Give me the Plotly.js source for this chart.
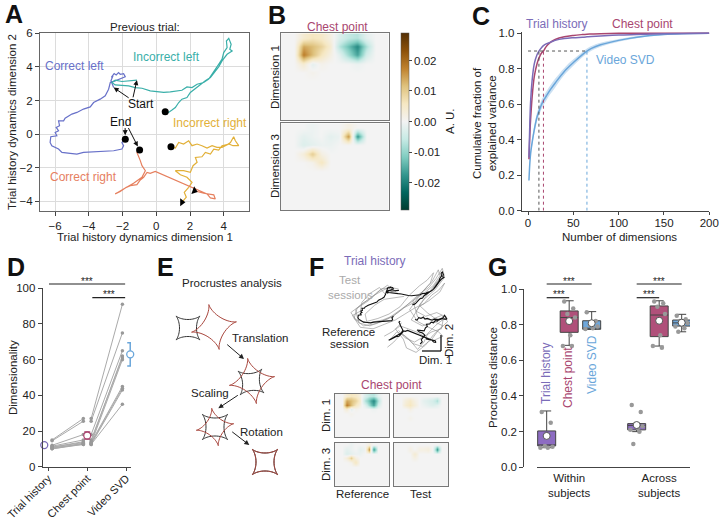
<!DOCTYPE html>
<html><head><meta charset="utf-8">
<script src="https://cdn.plot.ly/plotly-3.0.1.min.js"></script>
<style>html,body{margin:0;padding:0;background:#fff}#chart{width:720px;height:520px}</style>
</head><body><div id="chart"></div>
<script>
// ---------- Panel A: trial history trajectories ----------
const clX = [-2.53,-2.69,-2.57,-2.67,-2.50,-2.38,-2.24,-2.14,-1.94,-1.84,-2.14,-2.44,-2.73,-2.83,-3.03,-3.33,-3.72,-3.92,-4.32,-4.71,-5.01,-5.41,-5.50,-5.80,-5.74,-5.94,-5.80,-6.00,-5.90,-6.26,-6.30,-6.20,-5.80,-5.60,-5.11,-4.71,-4.32,-3.72,-3.13,-2.53,-2.04,-1.94,-2.04,-1.84];
const clY = [2.77,3.17,3.47,3.37,3.60,3.52,3.66,3.56,3.60,3.41,3.27,3.17,3.07,2.67,2.28,2.08,1.88,1.62,1.49,1.29,1.19,0.95,0.79,0.79,0.50,0.40,0.20,0.10,-0.10,-0.16,-0.50,-0.69,-0.89,-1.09,-1.15,-1.19,-1.09,-1.05,-1.03,-0.99,-0.89,-0.69,-0.50,-0.30];
const ilX = [-1.15,-1.54,-2.04,-2.44,-2.63,-2.44,-2.04,-1.64,-1.25,-0.85,-0.36,0.04,0.44,0.83,1.23,1.52,1.82,2.12,2.42,2.81,3.11,3.31,3.50,3.70,3.90,4.00,4.20,4.16,4.30,4.44,4.36,4.50,4.20,3.90,3.70,3.50,3.21,2.91,2.61,2.32,2.02,1.82,1.52,1.33,1.13,0.93,0.73,0.53];
const ilY = [3.21,3.17,3.13,3.21,3.07,2.93,2.91,2.87,2.77,2.73,2.57,2.51,2.48,2.51,2.57,2.61,2.81,2.77,2.97,3.07,3.27,3.60,3.86,4.16,4.46,4.85,5.15,5.54,5.70,5.35,5.05,4.95,4.75,4.36,4.00,3.76,3.37,3.17,2.93,2.67,2.48,2.18,2.08,1.88,1.58,1.43,1.29,1.33];
const irX = [1.52,1.78,1.66,1.92,2.12,1.82,1.43,1.13,1.62,2.02,2.18,2.42,2.32,2.71,2.91,3.21,3.41,3.70,3.90,4.20,4.40,4.59,4.69,4.89,4.55,4.30,3.90,3.60,3.31,3.01,2.71,2.42,2.12,1.92,1.62,1.33,1.13,0.87];
const irY = [-4.06,-3.76,-3.47,-3.17,-2.87,-2.57,-2.42,-2.18,-2.18,-2.28,-1.88,-1.68,-1.39,-1.35,-1.09,-1.19,-0.89,-0.95,-0.69,-0.63,-0.50,-0.16,-0.40,-0.69,-0.69,-0.59,-0.79,-0.79,-0.69,-0.83,-0.69,-0.59,-0.69,-0.40,-0.59,-0.50,-0.83,-0.75];
const crX = [2.26,2.81,3.41,3.50,3.21,3.01,-0.06,-0.36,-0.55,-0.75,-0.95,-1.15,-1.54,-1.78,-2.14,-2.44,-1.94,-1.35,-0.85,-0.65,-0.85,-0.95,-1.05,-1.15,-0.99];
const crY = [-3.37,-3.52,-3.62,-3.86,-3.80,-3.56,-2.22,-2.34,-2.28,-2.57,-2.73,-3.01,-3.07,-3.17,-3.41,-3.56,-3.27,-2.93,-2.57,-2.18,-1.88,-1.58,-1.29,-1.09,-0.95];
const trajNames = ['Correct left','Incorrect left','Incorrect right','Correct right'];

// ---------- Panel B / F: chest point loadings (units of 1e-3 A.U.) ----------
const chestDim1Ref = [
 [0,0,4,6,5,2,-3,-6,-7,-2,0,0],
 [0,0,14,12,9,4,-7,-13,-19,-8,0,0],
 [0,0,18,12,6,2,-2,-9,-16,-4,0,0],
 [0,0,4,-2,1,0,0,0,-1,0,0,0],
 [0,0,0,1,0,0,0,0,0,0,0,0],
 [0,0,0,0,0,0,0,0,0,0,0,0],
 [0,0,0,0,0,0,0,0,0,0,0,0],
 [0,0,0,0,0,0,0,0,0,0,0,0],
 [0,0,0,0,0,0,0,0,0,0,0,0],
 [0,0,0,0,0,0,0,0,0,0,0,0]];
const chestDim3Ref = [
 [0,0,0,-1,0,0,0,2,0,0,0,0],
 [0,0,-2,-1,0,-2,-1,16,-18,0,0,0],
 [0,0,-3,-2,-1,-1,0,0,0,0,0,0],
 [0,0,3,10,2,0,0,0,0,0,0,0],
 [0,0,0,1,6,0,0,0,0,0,0,0],
 [0,0,0,0,0,0,0,0,0,0,0,0],
 [0,0,0,0,0,0,0,0,0,0,0,0],
 [0,0,0,0,0,0,0,0,0,0,0,0],
 [0,0,0,0,0,0,0,0,0,0,0,0],
 [0,0,0,0,0,0,0,0,0,0,0,0]];
const chestDim1Test = [
 [0,0,0,0,0,0,0,0,0,0,0,0],
 [0,0,3,5,2,0,-2,-3,-4,-8,0,0],
 [0,0,4,6,3,0,-1,-2,-3,-2,0,0],
 [0,0,0,2,0,0,0,0,0,0,0,0],
 [0,0,0,0,0,0,0,0,0,0,0,0],
 [0,0,0,1,0,0,0,0,0,0,0,0],
 [0,0,0,0,0,0,0,0,0,0,0,0],
 [0,0,0,0,0,0,0,0,0,0,0,0],
 [0,0,0,0,0,0,0,0,0,0,0,0],
 [0,0,0,0,0,0,0,0,0,0,0,0]];
const chestDim3Test = [
 [0,0,0,0,0,0,0,0,0,0,0,0],
 [0,0,0,2,0,2,2,3,0,-18,0,0],
 [0,0,0,0,4,0,0,0,0,0,0,0],
 [0,0,0,0,2,0,0,0,0,0,0,0],
 [0,0,0,0,0,0,0,0,0,0,0,0],
 [0,0,0,0,0,0,0,0,0,0,0,0],
 [0,0,0,0,0,0,0,0,0,0,0,0],
 [0,0,0,0,0,0,0,0,0,0,0,0],
 [0,0,0,0,0,0,0,0,0,0,0,0],
 [0,0,0,0,0,0,0,0,0,0,0,0]];
const cbTickVals = [-20,-10,0,10,20];
const cbTickText = ['-0.02','-0.01','0.00','0.01','0.02'];

// ---------- Panel C: cumulative explained variance ----------
const nDims = [1,2,3,5,7,10,12,15,17,20,25,30,40,50,60,65,70,80,100,120,150,200];
const cumTrial = [0.30,0.50,0.63,0.76,0.83,0.88,0.90,0.92,0.93,0.94,0.95,0.96,0.97,0.975,0.978,0.98,0.982,0.985,0.99,0.993,0.997,1.0];
const cumChest = [0.29,0.43,0.53,0.67,0.76,0.83,0.86,0.89,0.90,0.925,0.95,0.965,0.98,0.988,0.993,0.995,0.996,0.998,1.0,1.0,1.0,1.0];
const cumVideo = [0.17,0.27,0.33,0.40,0.46,0.53,0.56,0.60,0.62,0.645,0.685,0.72,0.785,0.835,0.88,0.90,0.915,0.935,0.96,0.978,0.993,1.0];
const cumVideoSem = [0.01,0.015,0.02,0.02,0.025,0.025,0.025,0.025,0.025,0.025,0.025,0.025,0.02,0.018,0.015,0.014,0.013,0.011,0.008,0.006,0.003,0.001];
const dims90 = [12,17,65];

// ---------- Panel D: dimensionality per subject ----------
const dimTrial = [15,14.5,12,11.5,11,11,10.5,10.5,10,10];
const dimChest = [27,25.5,18,15,14,13.5,13,12.5,12.5,13];
const dimVideo = [91,75,65,61,62,45,44,43,35,60];
const dimMeans = [12.1,17.5,63];
const dimSems = [0.6,2.0,6.5];
const dimCats = ['Trial history','Chest point','Video SVD'];

// ---------- Panel F: test sessions (trial history, sketch of grey cloud) ----------
const test1X = [-2.0,-3.2,-4.5,-6.0,-7.2,-6.5,-5.0,-3.2,-1.8,-0.8,0.4,1.5,2.6,3.5,4.3,4.6,3.4,2.0,1.0,2.2,3.6,4.8,3.5,2.5,2.0,1.2,0.2,-0.8,-1.8,-2.6];
const test1Y = [3.8,3.2,2.4,1.2,0.2,-0.8,-1.2,-0.8,-0.2,0.6,1.8,2.8,3.6,4.8,6.2,5.0,3.3,2.0,0.4,-0.3,0.2,-0.4,-1.5,-2.6,-3.8,-4.8,-3.5,-2.6,-3.8,-4.5];
const test2X = [-1.5,-2.6,-3.8,-5.0,-6.4,-6.8,-5.6,-4.0,-2.5,-1.2,0.0,1.2,2.2,3.2,4.0,3.8,3.0,1.8,0.6,1.2,2.8,4.2,5.0,3.8,3.0,1.8,0.6,-0.4,-1.4,-2.2];
const test2Y = [3.0,3.9,3.0,1.8,0.8,-0.6,-1.6,-1.3,-0.6,0.4,1.2,2.2,3.0,3.9,5.2,6.0,4.4,3.0,1.8,-0.4,-0.8,-0.2,-1.0,-2.2,-3.4,-4.4,-4.0,-3.0,-2.4,-3.4];
const test3X = [-2.8,-3.6,-4.8,-5.8,-6.0,-7.0,-6.0,-4.4,-3.0,-1.6,-0.4,0.8,2.0,3.0,3.8,4.6,4.0,2.6,1.4,0.4,1.8,3.2,4.4,3.2,2.2,1.0,-0.2,-0.6,-1.6,-0.8];
const test3Y = [2.6,3.6,2.8,1.6,0.4,-0.2,-1.8,-2.0,-1.4,-0.8,0.0,0.8,1.4,2.6,3.2,4.2,3.0,1.8,1.0,-0.8,-1.6,-1.0,-1.6,-2.8,-4.2,-5.2,-4.6,-3.4,-2.0,-1.2];
const test4X = [-0.5,-1.8,-3.0,-4.2,-5.4,-5.2,-3.8,-2.4,-1.0,0.2,1.4,2.4,3.2,2.8,1.6,0.2,1.2,2.6,3.8,4.4,3.2,2.0,1.0,0.0,-1.0,-2.0,-3.0];
const test4Y = [2.4,2.2,2.0,1.2,0.0,-1.0,-0.6,0.0,1.0,2.6,3.8,4.6,5.6,4.2,2.8,0.6,-1.0,-1.8,-2.4,-3.0,-3.6,-3.0,-2.4,-2.0,-1.6,-2.4,-3.0];
const test5X = [-1.2,-2.2,-3.4,-4.6,-5.8,-6.6,-6.2,-4.8,-3.4,-2.0,-0.6,0.8,1.8,2.8,3.6,4.4,3.8,2.4,1.4,2.4,3.4,4.4,4.2,3.0,1.8,0.8,-0.4,-1.2];
const test5Y = [3.4,3.6,3.4,2.2,1.4,0.6,-1.2,-1.6,-1.0,-0.4,0.8,1.6,2.4,3.0,4.2,5.4,4.6,2.6,1.2,0.2,-0.6,-0.8,-2.0,-2.4,-3.2,-3.8,-3.2,-2.2];

// ---------- Panel G: Procrustes distance ----------
const groupPos = [0,4];
const thQ1=[0.12,0.21], thMed=[0.125,0.235], thQ3=[0.204,0.245], thLo=[0.11,0.20], thHi=[0.316,0.245];
const cpQ1=[0.757,0.733], cpMed=[0.84,0.854], cpQ3=[0.877,0.905], cpLo=[0.684,0.68], cpHi=[0.934,0.934];
const svQ1=[0.774,0.792], svMed=[0.78,0.81], svQ3=[0.822,0.826], svLo=[0.774,0.76], svHi=[0.873,0.858];
const thMean=[0.176,0.237], cpMean=[0.82,0.822], svMean=[0.808,0.811];
const thPts=[[0.31,0.25,0.12,0.115,0.11,0.11],[0.35,0.31,0.24,0.23,0.22,0.21,0.20,0.13]];
const cpPts=[[0.93,0.89,0.86,0.84,0.74,0.68,0.68],[0.93,0.92,0.90,0.86,0.74,0.68,0.67]];
const svPts=[[0.87,0.82,0.80,0.79,0.78,0.775],[0.85,0.83,0.82,0.81,0.80,0.79,0.78,0.76]];

// ================= drawing =================
const W=720,H=520;
const PX=x=>x/W, PY=y=>1-y/H;
const dx=(a,b)=>[a/W,b/W], dy=(t,b)=>[1-b/H,1-t/H];
const FONT='Liberation Sans, Arial, sans-serif';
const C_PUR='#7b6cb8', C_MAR='#a9466f', C_BLU='#6aa6da';
const C_CL='#6871c9', C_IL='#3aafa9', C_IR='#e2b038', C_CR='#e6805f';

function ann(text,x,y,o){return Object.assign({text:text,x:PX(x),y:PY(y),xref:'paper',yref:'paper',showarrow:false,xanchor:'center',yanchor:'middle',font:{size:11.5,color:'#222'}},o||{});}
function axs(o){return Object.assign({showgrid:false,zeroline:false,showline:true,linecolor:'#444',linewidth:1,ticks:'outside',ticklen:4,tickwidth:1,tickcolor:'#444',tickfont:{size:11.5,color:'#222'},fixedrange:true},o);}
function heatAx(o){return Object.assign({showgrid:false,zeroline:false,showline:true,mirror:true,linecolor:'#777',linewidth:1,ticks:'',showticklabels:false,fixedrange:true},o);}

const traces=[];
// Panel A
const trajs=[[clX,clY,C_CL],[ilX,ilY,C_IL],[irX,irY,C_IR],[crX,crY,C_CR]];
trajs.forEach((t,i)=>traces.push({type:'scatter',mode:'lines',x:t[0],y:t[1],name:trajNames[i],line:{color:t[2],width:1.2},xaxis:'x',yaxis:'y',hoverinfo:'skip'}));
traces.push({type:'scatter',mode:'markers',x:trajs.map(t=>t[0][t[0].length-1]),y:trajs.map(t=>t[1][t[1].length-1]),marker:{color:'#000',size:7},xaxis:'x',yaxis:'y',hoverinfo:'skip',cliponaxis:false});
traces.push({type:'scatter',mode:'markers',x:[crX[0],irX[0]],y:[crY[0],irY[0]],marker:{color:'#000',size:7,symbol:'triangle-right',angle:[20,0]},xaxis:'x',yaxis:'y',hoverinfo:'skip'});

// Panel B heatmaps
const hm=(z,xa,ya)=>({type:'heatmap',z:z,xaxis:xa,yaxis:ya,coloraxis:'coloraxis',zsmooth:'best',hoverinfo:'skip'});
traces.push(hm(chestDim1Ref,'x2','y2'));
traces.push(hm(chestDim3Ref,'x3','y3'));

// Panel C
const lo=cumVideo.map((v,i)=>v-cumVideoSem[i]), hi=cumVideo.map((v,i)=>v+cumVideoSem[i]);
traces.push({type:'scatter',mode:'lines',x:nDims,y:lo,line:{width:0,color:'rgba(0,0,0,0)',shape:'spline'},xaxis:'x4',yaxis:'y4',hoverinfo:'skip'});
traces.push({type:'scatter',mode:'lines',x:nDims,y:hi,line:{width:0,color:'rgba(0,0,0,0)',shape:'spline'},fill:'tonexty',fillcolor:'rgba(106,166,218,0.35)',xaxis:'x4',yaxis:'y4',hoverinfo:'skip'});
traces.push({type:'scatter',mode:'lines',x:nDims,y:cumVideo,line:{color:C_BLU,width:1.5,shape:'spline'},xaxis:'x4',yaxis:'y4',hoverinfo:'skip'});
traces.push({type:'scatter',mode:'lines',x:nDims,y:cumChest,line:{color:C_MAR,width:1.5,shape:'spline'},xaxis:'x4',yaxis:'y4',hoverinfo:'skip'});
traces.push({type:'scatter',mode:'lines',x:nDims,y:cumTrial,line:{color:C_PUR,width:1.5,shape:'spline'},xaxis:'x4',yaxis:'y4',hoverinfo:'skip'});

// Panel D
const dX=[],dY=[];
dimTrial.forEach((v,i)=>{dX.push(0.1,0.9,null,1.1,1.9,null);dY.push(v,dimChest[i],null,dimChest[i],dimVideo[i],null);});
traces.push({type:'scatter',mode:'lines+markers',x:dX,y:dY,line:{color:'#aaa',width:1},marker:{color:'#999',size:3.5},xaxis:'x5',yaxis:'y5',hoverinfo:'skip'});
[[-0.1,C_PUR],[1.0,C_MAR],[2.1,C_BLU]].forEach((m,i)=>traces.push({type:'scatter',mode:'markers',x:[m[0]],y:[dimMeans[i]],
  error_y:{type:'data',array:[dimSems[i]],visible:i>0,color:m[1],thickness:1.5,width:3},
  marker:{symbol:'circle',color:'#fff',size:7,line:{color:m[1],width:1.3}},xaxis:'x5',yaxis:'y5',hoverinfo:'skip',cliponaxis:false}));

// Panel F trajectories
[[test1X,test1Y],[test2X,test2Y],[test3X,test3Y],[test4X,test4Y],[test5X,test5Y]].forEach(t=>traces.push({type:'scatter',mode:'lines',x:t[0],y:t[1],line:{color:'rgba(140,140,140,0.6)',width:1},xaxis:'x6',yaxis:'y6',hoverinfo:'skip'}));
trajs.forEach(t=>traces.push({type:'scatter',mode:'lines',x:t[0],y:t[1],line:{color:'#111',width:1.1},xaxis:'x6',yaxis:'y6',hoverinfo:'skip'}));
// Panel F heatmaps
traces.push(hm(chestDim1Ref,'x7','y7'));
traces.push(hm(chestDim1Test,'x8','y8'));
traces.push(hm(chestDim3Ref,'x9','y9'));
traces.push(hm(chestDim3Test,'x10','y10'));

// Panel G
const boxDef=[[thQ1,thMed,thQ3,thLo,thHi,'#8d6cc2'],[cpQ1,cpMed,cpQ3,cpLo,cpHi,'#b0507a'],[svQ1,svMed,svQ3,svLo,svHi,'#6fa8dc']];
boxDef.forEach((b,k)=>traces.push({type:'box',x:groupPos.map(p=>p+k),q1:b[0],median:b[1],q3:b[2],lowerfence:b[3],upperfence:b[4],
  fillcolor:b[5],line:{color:'#444',width:1},width:0.8,boxpoints:false,xaxis:'x11',yaxis:'y11',hoverinfo:'skip'}));
const jit=[-0.22,0.18,-0.08,0.26,0.05,-0.28,0.12,-0.15];
[thPts,cpPts,svPts].forEach((pts,k)=>{const xs=[],ys=[];pts.forEach((arr,g)=>arr.forEach((v,i)=>{xs.push(groupPos[g]+k+jit[i%8]);ys.push(v);}));
  traces.push({type:'scatter',mode:'markers',x:xs,y:ys,marker:{color:'#999',size:4.5},xaxis:'x11',yaxis:'y11',hoverinfo:'skip'});});
[thMean,cpMean,svMean].forEach((m,k)=>traces.push({type:'scatter',mode:'markers',x:groupPos.map(p=>p+k),y:m,marker:{color:'#fff',size:7,line:{color:'#555',width:1}},xaxis:'x11',yaxis:'y11',hoverinfo:'skip'}));

// ---------- shapes ----------
const shapes=[];
const dimCols=['#555',C_MAR,C_BLU];
dims90.forEach((d,i)=>shapes.push({type:'line',xref:'x4',yref:'y4',x0:d,x1:d,y0:0,y1:0.9,line:{color:dimCols[i],width:1,dash:'dot'}}));
shapes.push({type:'line',xref:'x4',yref:'y4',x0:0,x1:dims90[2],y0:0.9,y1:0.9,line:{color:'#555',width:1,dash:'dot'}});
shapes.push({type:'line',xref:'x5',yref:'paper',x0:0.02,x1:1.97,y0:PY(284),y1:PY(284),line:{color:'#222',width:1.2}});
shapes.push({type:'line',xref:'x5',yref:'paper',x0:1.13,x1:1.97,y0:PY(297.7),y1:PY(297.7),line:{color:'#222',width:1.2}});
[[0,2,284],[0,1,297.7],[4,6,284],[4,5,297.7]].forEach(s=>shapes.push({type:'line',xref:'x11',yref:'paper',x0:s[0],x1:s[1],y0:PY(s[2]),y1:PY(s[2]),line:{color:'#222',width:1.2}}));
shapes.push({type:'line',xref:'paper',yref:'paper',x0:PX(441),x1:PX(441),y0:PY(335),y1:PY(351),line:{color:'#111',width:1.3}});
shapes.push({type:'line',xref:'paper',yref:'paper',x0:PX(422),x1:PX(441),y0:PY(351),y1:PY(351),line:{color:'#111',width:1.3}});
function astroid(cx,cy,r,deg){const a=deg*Math.PI/180;let d='';for(let i=0;i<=96;i++){const t=i/96*2*Math.PI;const x0=r*Math.pow(Math.cos(t),3),y0=r*Math.pow(Math.sin(t),3);
 const x=cx+x0*Math.cos(a)-y0*Math.sin(a),y=cy+x0*Math.sin(a)+y0*Math.cos(a);d+=(i?'L':'M')+PX(x).toFixed(5)+','+PY(y).toFixed(5);}return d+'Z';}
const RED='#a8453c', BLK='#333';
[[188,328,17,45,BLK],[214,327,23,-13,RED],[251,382,17,40,BLK],[252,381,23,-11,RED],[215,427,18,45,BLK],[215,427,19,-10,RED],[265,462,18,45,BLK],[265,462,18,45,RED]]
 .forEach(s=>shapes.push({type:'path',xref:'paper',yref:'paper',path:astroid(s[0],s[1],s[2],s[3]),line:{color:s[4],width:1}}));

// ---------- annotations ----------
const A=[];
[['A',14,14],['B',277,15],['C',481,16],['D',16,267],['E',165,267],['F',316,267],['G',497,267]].forEach(l=>A.push(ann('<b>'+l[0]+'</b>',l[1],l[2],{font:{size:25,color:'#111'}})));
A.push(ann('Previous trial:',145,27));
A.push(ann('Trial history dynamics dimension 1',145,237));
A.push(ann('Trial history dynamics dimension 2',12,122,{textangle:-90}));
const dl=(t,x,y,c)=>({text:t,x:x,y:y,xref:'x',yref:'y',showarrow:false,font:{size:12,color:c}});
A.push(dl('Correct left',-4.86,4.06,C_CL));
A.push(dl('Incorrect left',0.61,4.56,C_IL));
A.push(dl('Incorrect right',3.18,0.64,C_IR));
A.push(dl('Correct right',-4.32,-2.57,C_CR));
A.push(dl('Start',-0.91,1.78,'#111'));
A.push(dl('End',-2.14,0.73,'#111'));
const arr=(x,y,axv,ayv,so)=>({text:'',x:x,y:y,ax:axv,ay:ayv,xref:'x',yref:'y',axref:'x',ayref:'y',showarrow:true,arrowhead:2,arrowsize:1,arrowwidth:1,arrowcolor:'#111',standoff:so||0});
A.push(arr(clX[0],clY[0],-1.55,2.1));
A.push(arr(ilX[0],ilY[0],-1.4,2.1));
A.push(arr(clX[clX.length-1],clY[clY.length-1],-1.85,0.45,4));
A.push(arr(crX[crX.length-1],crY[crY.length-1],-1.7,0.45,4));
A.push(ann('Chest point',337,27,{font:{size:12,color:C_MAR}}));
A.push(ann('Dimension 1',275,77,{textangle:-90}));
A.push(ann('Dimension 3',275,166,{textangle:-90}));
A.push(ann('A. U.',450,121,{textangle:-90}));
A.push(ann('Trial history',557,24,{font:{size:12,color:C_PUR}}));
A.push(ann('Chest point',642,24,{font:{size:12,color:C_MAR}}));
A.push(ann('Video SVD',625,60,{font:{size:12,color:C_BLU}}));
A.push(ann('Number of dimensions',619,237));
A.push(ann('Cumulative fraction of<br>explained variance',484,123,{textangle:-90}));
A.push(ann('Dimensionality',13,378,{textangle:-90}));
A.push(ann('***',87,281,{font:{size:10,color:'#222'}}));
A.push(ann('***',108.5,294.5,{font:{size:10,color:'#222'}}));
A.push(ann('Procrustes analysis',232,283));
A.push(ann('Translation',260,338));
A.push(ann('Scaling',210,393));
A.push(ann('Rotation',261,432));
const earr=(hx,hy,tx,ty)=>({text:'',x:PX(hx),y:PY(hy),xref:'paper',yref:'paper',ax:tx-hx,ay:ty-hy,showarrow:true,arrowhead:2,arrowsize:1,arrowwidth:1,arrowcolor:'#222'});
A.push(earr(244,359,225.7,343.3));
A.push(earr(218.3,408.3,239.3,394.3));
A.push(earr(249.3,445,230.7,430.7));
A.push(ann('Trial history',375,261,{font:{size:12,color:C_PUR}}));
A.push(ann('Test',350,280,{font:{size:11.5,color:'#aaa'}}));
A.push(ann('sessions',350,295,{font:{size:11.5,color:'#aaa'}}));
A.push(ann('Reference',348,332));
A.push(ann('session',349,344));
A.push(ann('Dim. 2',449,341,{textangle:-90}));
A.push(ann('Dim. 1',436,360));
A.push(ann('Chest point',392,385,{font:{size:12,color:C_MAR}}));
A.push(ann('Dim. 1',326,416,{textangle:-90}));
A.push(ann('Dim. 3',326,465,{textangle:-90}));
A.push(ann('Reference',362,494));
A.push(ann('Test',421,494));
A.push(ann('Procrustes distance',493,378,{textangle:-90}));
A.push(ann('Trial history',546,373,{textangle:-90,font:{size:12,color:C_PUR}}));
A.push(ann('Chest point',568,378,{textangle:-90,font:{size:12,color:C_MAR}}));
A.push(ann('Video SVD',592,365,{textangle:-90,font:{size:12,color:C_BLU}}));
[[568.5,281],[558.5,294.5],[659,281],[648.5,294.5]].forEach(p=>A.push(ann('***',p[0],p[1],{font:{size:10,color:'#222'}})));

const layout={
 width:W,height:H,margin:{l:0,r:0,t:0,b:0,pad:0},showlegend:false,
 paper_bgcolor:'#fff',plot_bgcolor:'rgba(0,0,0,0)',font:{family:FONT,size:11.5,color:'#222'},
 xaxis:axs({domain:dx(40,249),range:[-6.9,5.5],dtick:2,showgrid:true,gridcolor:'#dcdcdc',mirror:true,linecolor:'#666',anchor:'y'}),
 yaxis:axs({domain:dy(33.3,210.7),range:[-4.56,6.0],dtick:2,showgrid:true,gridcolor:'#dcdcdc',mirror:true,linecolor:'#666',anchor:'x'}),
 xaxis2:heatAx({domain:dx(280.7,388.7),range:[-0.5,11.5],anchor:'y2'}),
 yaxis2:heatAx({domain:dy(33.3,120),range:[9.5,-0.5],anchor:'x2'}),
 xaxis3:heatAx({domain:dx(280.7,388.7),range:[-0.5,11.5],anchor:'y3'}),
 yaxis3:heatAx({domain:dy(123.3,210),range:[9.5,-0.5],anchor:'x3'}),
 xaxis4:axs({domain:dx(521.7,709.3),range:[-7,200],tickvals:[0,50,100,150,200],ticklen:3,ticklabelstandoff:-2,anchor:'y4'}),
 yaxis4:axs({domain:dy(31.5,210.7),range:[0,1.0101],tickvals:[0,0.2,0.4,0.6,0.8,1.0],tickformat:'.1f',anchor:'x4'}),
 xaxis5:axs({domain:dx(42.7,131),range:[-0.14,2.12],tickvals:[0,1,2],ticktext:dimCats,tickangle:-45,ticklen:3,ticklabelstandoff:-3,tickfont:{size:11,color:'#222'},anchor:'y5'}),
 yaxis5:axs({domain:dy(288.3,466.7),range:[0,100],dtick:20,anchor:'x5'}),
 xaxis6:{domain:dx(340,455),range:[-8.56,5.9],visible:false,fixedrange:true,anchor:'y6'},
 yaxis6:{domain:dy(262,360),range:[-6.23,7.06],visible:false,fixedrange:true,anchor:'x6'},
 xaxis7:heatAx({domain:dx(335,389.3),range:[-0.5,11.5],anchor:'y7'}),
 yaxis7:heatAx({domain:dy(394,437.3),range:[9.5,-0.5],anchor:'x7'}),
 xaxis8:heatAx({domain:dx(394,448.3),range:[-0.5,11.5],anchor:'y8'}),
 yaxis8:heatAx({domain:dy(394,437.3),range:[9.5,-0.5],anchor:'x8'}),
 xaxis9:heatAx({domain:dx(335,389.3),range:[-0.5,11.5],anchor:'y9'}),
 yaxis9:heatAx({domain:dy(442.7,486),range:[9.5,-0.5],anchor:'x9'}),
 xaxis10:heatAx({domain:dx(394,448.3),range:[-0.5,11.5],anchor:'y10'}),
 yaxis10:heatAx({domain:dy(442.7,486),range:[9.5,-0.5],anchor:'x10'}),
 xaxis11:axs({domain:dx(537,690),range:[-0.43,6.37],tickvals:[1,5],ticktext:['Within<br>subjects','Across<br>subjects'],ticks:'',anchor:'y11'}),
 yaxis11:axs({domain:dy(289,467.3),range:[0,1],tickvals:[0,0.2,0.4,0.6,0.8,1.0],tickformat:'.1f',anchor:'free',position:523.3/W}),
 coloraxis:{cmin:-29,cmax:29,colorscale:[[0,'#003c30'],[0.1,'#01665e'],[0.2,'#35978f'],[0.3,'#80cdc1'],[0.4,'#c7eae5'],[0.5,'#f3f3f3'],[0.6,'#f6e8c3'],[0.7,'#dfc27d'],[0.8,'#bf812d'],[0.9,'#8c510a'],[1,'#543005']],
  colorbar:{x:PX(401),xanchor:'left',y:PY(121.5),yanchor:'middle',len:177/H,lenmode:'fraction',thickness:8,thicknessmode:'pixels',xpad:0,ypad:0,
   outlinewidth:0.5,outlinecolor:'#555',ticks:'outside',ticklen:3,tickcolor:'#444',tickvals:cbTickVals,ticktext:cbTickText,tickfont:{size:11.5,color:'#222'}}},
 shapes:shapes,annotations:A
};
Plotly.newPlot('chart',traces,layout,{staticPlot:true,displayModeBar:false});
</script></body></html>
